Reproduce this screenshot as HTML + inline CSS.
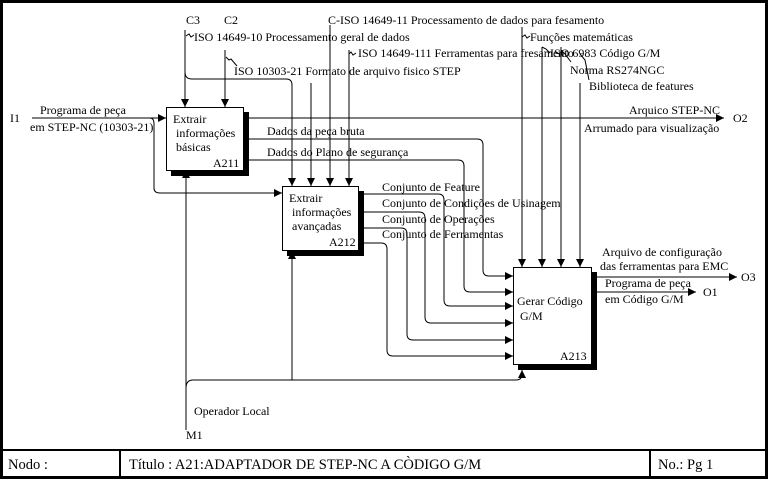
<!DOCTYPE html>
<html><head><meta charset="utf-8"><style>
html,body{margin:0;padding:0;background:#fff;}
svg{display:block;}
text{font-family:"Liberation Serif",serif;font-size:12px;fill:#000;}
text.ft{font-size:14.5px;}
</style></head><body>
<svg width="768" height="479" viewBox="0 0 768 479" xmlns="http://www.w3.org/2000/svg">
<defs>
<marker id="a" viewBox="0 0 10 10" refX="10" refY="5" markerWidth="8" markerHeight="8" orient="auto"><path d="M0,0 L10,5 L0,10 z" fill="#000"/></marker>
</defs>
<rect x="1.5" y="1.5" width="765" height="476" fill="none" stroke="#000" stroke-width="3"/>
<line x1="0" y1="450" x2="768" y2="450" stroke="#000" stroke-width="2"/>
<line x1="120" y1="450" x2="120" y2="478" stroke="#000" stroke-width="2"/>
<line x1="650" y1="450" x2="650" y2="478" stroke="#000" stroke-width="2"/>
<text class="ft" x="8" y="469">Nodo :</text>
<text class="ft" x="129" y="469">Título : A21:ADAPTADOR DE STEP-NC A CÒDIGO G/M</text>
<text class="ft" x="658" y="469">No.:  Pg 1</text>

<g fill="none" stroke="#000" stroke-width="1">
<line x1="32" y1="118" x2="166" y2="118" marker-end="url(#a)"/>
<path d="M150,118 Q154,118 154,124 L154,188 Q154,193 160,193 L282,193" marker-end="url(#a)"/>
<line x1="185" y1="30" x2="185" y2="107" marker-end="url(#a)"/>
<line x1="225" y1="50" x2="225" y2="107" marker-end="url(#a)"/>
<path d="M185,72 Q185,79 192,79 L286,79 Q292,79 292,85 L292,186" marker-end="url(#a)"/>
<line x1="311" y1="83" x2="311" y2="186" marker-end="url(#a)"/>
<line x1="330" y1="25" x2="330" y2="186" marker-end="url(#a)"/>
<line x1="349" y1="50" x2="349" y2="186" marker-end="url(#a)"/>
<line x1="522" y1="27" x2="522" y2="267" marker-end="url(#a)"/>
<line x1="542" y1="47" x2="542" y2="267" marker-end="url(#a)"/>
<line x1="561" y1="47" x2="561" y2="267" marker-end="url(#a)"/>
<line x1="580" y1="83" x2="580" y2="267" marker-end="url(#a)"/>
<line x1="248" y1="118" x2="724" y2="118" marker-end="url(#a)"/>
<path d="M248,139 L477,139 Q483,139 483,145 L483,270 Q483,276 489,276 L513,276" marker-end="url(#a)"/>
<path d="M248,160 L458,160 Q464,160 464,166 L464,286 Q464,292 470,292 L513,292" marker-end="url(#a)"/>
<path d="M363,194 L438,194 Q444,194 444,200 L444,300 Q444,306 450,306 L513,306" marker-end="url(#a)"/>
<path d="M363,212 L419,212 Q425,212 425,218 L425,317 Q425,323 431,323 L513,323" marker-end="url(#a)"/>
<path d="M363,228 L401,228 Q407,228 407,234 L407,334 Q407,340 413,340 L513,340" marker-end="url(#a)"/>
<path d="M363,243 L381,243 Q387,243 387,249 L387,350 Q387,356 393,356 L513,356" marker-end="url(#a)"/>
<line x1="596" y1="277" x2="737" y2="277" marker-end="url(#a)"/>
<line x1="596" y1="292" x2="696" y2="292" marker-end="url(#a)"/>
<line x1="186" y1="430" x2="186" y2="170" marker-end="url(#a)"/>
<path d="M186,388 Q186,380 193,380 L516,380 Q522,380 522,374 L522,370" marker-end="url(#a)"/>
<path d="M292,380 Q292,376 292,370 L292,251" marker-end="url(#a)"/>
<path d="M186,36 l3,-2 l2,3 l3,-2"/>
<path d="M226,57 l3,3 l2,-1 l6,7"/>
<path d="M349,54 l2,-2 l2,3 l3,-2"/>
<path d="M522,37 l3,-2 l2,3 l3,-2"/>
<path d="M542,47 l4,2 l4,4"/>
<path d="M561,50 l4,4 l6,8"/>
<path d="M580,54 l5,6 l4,20"/>
</g>

<rect x="171" y="112" width="78" height="64" fill="#000"/>
<rect x="166.5" y="107.5" width="77" height="63" fill="#fff" stroke="#000"/>
<rect x="287" y="191" width="77" height="65" fill="#000"/>
<rect x="282.5" y="186.5" width="76" height="64" fill="#fff" stroke="#000"/>
<rect x="518" y="272" width="79" height="98" fill="#000"/>
<rect x="513.5" y="267.5" width="78" height="97" fill="#fff" stroke="#000"/>

<text x="173" y="123">Extrair</text>
<text x="176" y="137">informações</text>
<text x="176" y="151">básicas</text>
<text x="213" y="167">A211</text>
<text x="289" y="202">Extrair</text>
<text x="292" y="216">informações</text>
<text x="292" y="230">avançadas</text>
<text x="329" y="246">A212</text>
<text x="517" y="305">Gerar Código</text>
<text x="520" y="320">G/M</text>
<text x="560" y="360">A213</text>

<text x="10" y="122">I1</text>
<text x="40" y="114">Programa de peça</text>
<text x="30" y="131">em STEP-NC (10303-21)</text>
<text x="186" y="24">C3</text>
<text x="224" y="24">C2</text>
<text x="328" y="24">C-ISO 14649-11 Processamento de dados para fesamento</text>
<text x="194" y="41">ISO 14649-10 Processamento geral de dados</text>
<text x="358" y="57">ISO 14649-111 Ferramentas para fresamento</text>
<text x="234" y="75">ISO 10303-21 Formato de arquivo fisico STEP</text>
<text x="530" y="41">Funções matemáticas</text>
<text x="550" y="57">ISO 6983 Código G/M</text>
<text x="570" y="74">Norma RS274NGC</text>
<text x="589" y="90">Biblioteca de features</text>
<text x="629" y="114">Arquico STEP-NC</text>
<text x="733" y="122">O2</text>
<text x="584" y="132">Arrumado para visualização</text>
<text x="267" y="135">Dados da peça bruta</text>
<text x="267" y="156">Dados do Plano de segurança</text>
<text x="382" y="191">Conjunto de Feature</text>
<text x="382" y="207">Conjunto de Condições de Usinagem</text>
<text x="382" y="223">Conjunto de Operações</text>
<text x="382" y="238">Conjunto de Ferramentas</text>
<text x="602" y="256">Arquivo de configuração</text>
<text x="600" y="270">das ferramentas para EMC</text>
<text x="741" y="281">O3</text>
<text x="605" y="287">Programa de peça</text>
<text x="605" y="303">em Código G/M</text>
<text x="703" y="296">O1</text>
<text x="194" y="415">Operador Local</text>
<text x="186" y="439">M1</text>
</svg>
</body></html>
